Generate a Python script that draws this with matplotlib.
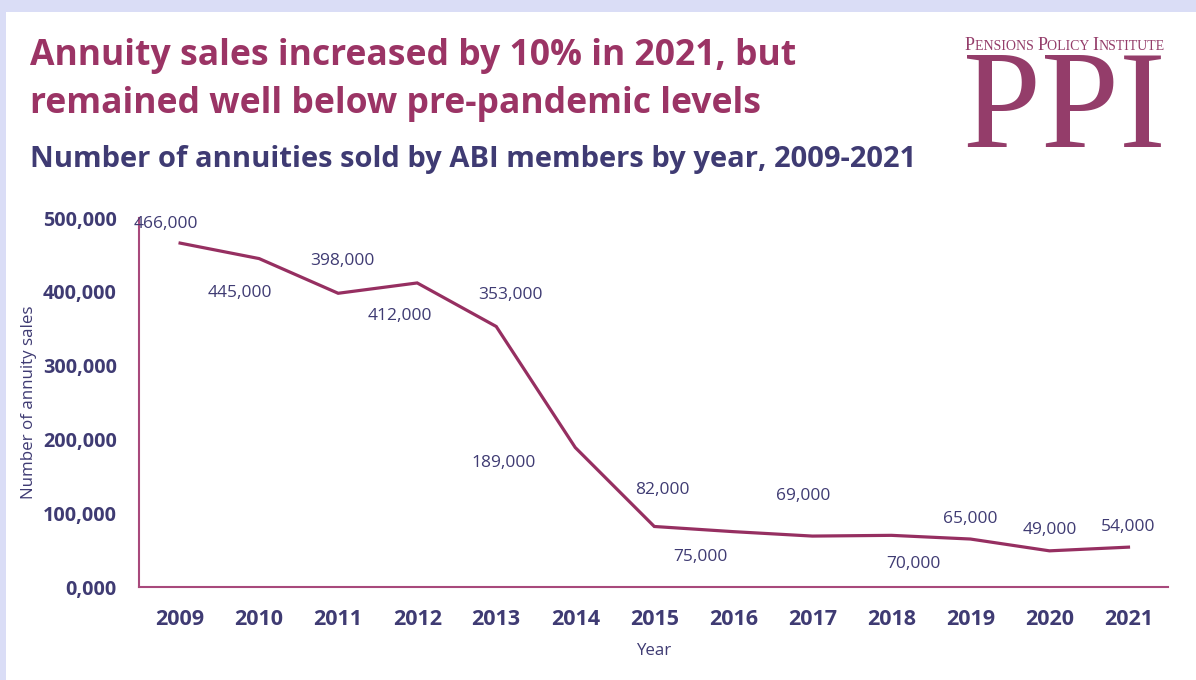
import matplotlib
matplotlib.use("Agg")
import matplotlib.pyplot as plt
from matplotlib.patches import Rectangle
from matplotlib.ticker import FuncFormatter

years = ["2009", "2010", "2011", "2012", "2013", "2014", "2015",
         "2016", "2017", "2018", "2019", "2020", "2021"]
sales = [466000, 445000, 398000, 412000, 353000, 189000, 82000,
         75000, 69000, 70000, 65000, 49000, 54000]
y_ticks = [0, 100000, 200000, 300000, 400000, 500000]

# label offsets in pixels (dx, dy) relative to each point
label_offsets = [(-14, 19), (-19, -34), (4, 32), (-17, -33), (14, 31), (-72, -15),
                 (8, 36), (-33, -25), (-9, 40), (22, -29), (0, 20), (0, 21), (0, 20)]

TITLE_C = "#9B3465"
INDIGO = "#3F3B73"
LINE_C = "#962F61"
SPINE_C = "#A8497C"
FONT = ["Open Sans", "DejaVu Sans"]

W, H = 1196, 680
fig = plt.figure(figsize=(W / 100, H / 100), dpi=100)
fig.patch.set_facecolor("#DADDF6")
fig.add_artist(Rectangle((6 / W, 0), 1 - 6 / W, 1 - 12 / H, transform=fig.transFigure,
                         facecolor="white", edgecolor="none", zorder=0))

ax = fig.add_axes([139 / W, 1 - 587 / H, (1168 - 139) / W, (587 - 218) / H])
ax.set_facecolor("none")
x = list(range(len(years)))
ax.plot(x, sales, color=LINE_C, lw=2.3, solid_joinstyle="miter", clip_on=False)
ax.set_xlim(-0.52, len(years) - 0.5)
ax.set_ylim(0, 500000)
ax.set_yticks(y_ticks)
ax.yaxis.set_major_formatter(FuncFormatter(lambda v, p: "0,000" if v == 0 else f"{int(v):,}"))
ax.set_xticks(x)
ax.set_xticklabels(years)
for s in ["top", "right"]:
    ax.spines[s].set_visible(False)
for s in ["left", "bottom"]:
    ax.spines[s].set_color(SPINE_C)
    ax.spines[s].set_linewidth(1.5)
ax.tick_params(axis="both", length=0, colors=INDIGO)
ax.tick_params(axis="y", pad=16)
ax.tick_params(axis="x", pad=16)
for lab in ax.get_yticklabels():
    lab.set_fontfamily(FONT); lab.set_fontweight("bold"); lab.set_fontsize(14.2)
for lab in ax.get_xticklabels():
    lab.set_fontfamily(FONT); lab.set_fontweight("bold"); lab.set_fontsize(15.5)

for i, (v, (dx, dy)) in enumerate(zip(sales, label_offsets)):
    ax.annotate(f"{v:,}", (i, v), xytext=(dx * 0.72, dy * 0.72), textcoords="offset points",
                ha="center", va="center", color=INDIGO, fontsize=12.5, family=FONT)

fig.text(29 / W, 1 - 402 / H, "Number of annuity sales", rotation=90, ha="center", va="center",
         color=INDIGO, fontsize=12.2, family=FONT)
fig.text(654 / W, 1 - 651 / H, "Year", ha="center", va="center",
         color=INDIGO, fontsize=12.2, family=FONT)

fig.text(30 / W, 1 - 56 / H, "Annuity sales increased by 10% in 2021, but", ha="left", va="center",
         color=TITLE_C, fontsize=25.6, fontweight="bold", family=FONT)
fig.text(30 / W, 1 - 104 / H, "remained well below pre-pandemic levels", ha="left", va="center",
         color=TITLE_C, fontsize=25.6, fontweight="bold", family=FONT)
fig.text(30 / W, 1 - 159 / H, "Number of annuities sold by ABI members by year, 2009-2021", ha="left",
         va="center", color=INDIGO, fontsize=21, fontweight="bold", family=FONT)

# PPI logo
LOGO_C = "#943D6A"
fig.text(1064 / W, 1 - 147 / H, "PPI", ha="center", va="baseline", color=LOGO_C,
         fontsize=101, family=["Liberation Serif", "DejaVu Serif"])

# small caps line
pieces = [("P", 13), ("ENSIONS ", 10), ("P", 13), ("OLICY ", 10), ("I", 13), ("NSTITUTE", 10)]
fig.canvas.draw()
renderer = fig.canvas.get_renderer()
xpos = 965
for txt, fs in pieces:
    t = fig.text(xpos / W, 1 - 50 / H, txt, ha="left", va="baseline", color=LOGO_C,
                 fontsize=fs, family=["Liberation Serif", "DejaVu Serif"])
    bb = t.get_window_extent(renderer)
    xpos += bb.width

fig.savefig("out.png", dpi=100, facecolor=fig.get_facecolor())
